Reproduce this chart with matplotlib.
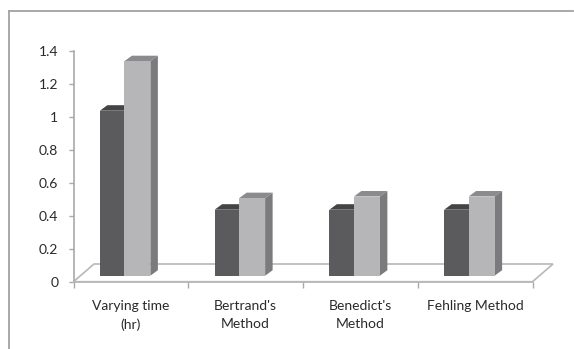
import matplotlib
matplotlib.use("Agg")
import matplotlib.pyplot as plt
from matplotlib.patches import Polygon
from matplotlib.lines import Line2D

# Data
categories = ["Varying time\n(hr)", "Bertrand's\nMethod", "Benedict's\nMethod", "Fehling Method"]
series_a = [1.0, 0.40, 0.40, 0.40]
series_b = [1.30, 0.47, 0.48, 0.48]
y_ticks = [0, 0.2, 0.4, 0.6, 0.8, 1.0, 1.2, 1.4]
y_tick_labels = ["0", "0.2", "0.4", "0.6", "0.8", "1", "1.2", "1.4"]

plt.rcParams["font.family"] = ["Lato", "DejaVu Sans"]

W, H = 574, 349
fig = plt.figure(figsize=(W / 100, H / 100), dpi=100)
fig.patch.set_facecolor("white")

# plot area (front plane of the floor)
left_px, right_px = 73.5, 532.5
bottom_px, top_px = 281.7, 50.7
ax = fig.add_axes([left_px / W, (H - bottom_px) / H,
                   (right_px - left_px) / W, (bottom_px - top_px) / H])
ax.set_xlim(-0.5, len(categories) - 0.5)
ax.set_ylim(0, 1.4)
ax.set_facecolor("none")

# pixel -> data conversion for the pseudo-3D offsets
px_x = (right_px - left_px) / len(categories)
px_y = (bottom_px - top_px) / 1.4

line_col = "#a9a9a9"
floor_col = "#b8b8b8"

# floor parallelogram
fdx, fdy = 20.5 / px_x, 17.7 / px_y
x0, x1 = -0.5, len(categories) - 0.5
floor = Polygon([(x0, 0), (x1, 0), (x1 + fdx, fdy), (x0 + fdx, fdy)],
                closed=True, facecolor="white", edgecolor=floor_col,
                linewidth=1.2, clip_on=False, zorder=1)
ax.add_patch(floor)

# bars with depth
shift_x = -6.5 / px_x
base = 6.0 / px_y
bw_a = 24.5 / px_x
bw_b = 26.0 / px_x
ddx, ddy = 7.5 / px_x, 5.5 / px_y

dark_front, dark_top, dark_side = "#5b5a5c", "#444345", "#3a393b"
light_front, light_top, light_side = "#b6b5b7", "#8b8a8c", "#7b7a7c"

xs = range(len(categories))
xa = [i + shift_x - bw_a / 2 for i in xs]
xb = [i + shift_x + bw_b / 2 for i in xs]


def faces(xc, w, v, top_c, side_c):
    xl, xr = xc - w / 2, xc + w / 2
    yt = base + v
    ax.add_patch(Polygon([(xl, yt), (xr, yt), (xr + ddx, yt + ddy), (xl + ddx, yt + ddy)],
                         closed=True, facecolor=top_c, edgecolor="none",
                         clip_on=False, zorder=2))
    ax.add_patch(Polygon([(xr, base), (xr, yt), (xr + ddx, yt + ddy), (xr + ddx, base + ddy)],
                         closed=True, facecolor=side_c, edgecolor="none",
                         clip_on=False, zorder=2))


for i in xs:
    faces(xa[i], bw_a, series_a[i], dark_top, dark_side)
ax.bar(xa, series_a, width=bw_a, bottom=base, color=dark_front,
       edgecolor="none", zorder=3, clip_on=False)
for i in xs:
    faces(xb[i], bw_b, series_b[i], light_top, light_side)
ax.bar(xb, series_b, width=bw_b, bottom=base, color=light_front,
       edgecolor="none", zorder=4, clip_on=False)

# axes styling
for s in ["top", "right"]:
    ax.spines[s].set_visible(False)
ax.spines["left"].set_color(line_col)
ax.spines["bottom"].set_color(floor_col)
ax.spines["left"].set_linewidth(1.2)
ax.spines["bottom"].set_linewidth(1.2)
ax.spines["bottom"].set_zorder(5)

ax.set_yticks(y_ticks)
ax.set_yticklabels(y_tick_labels)
ax.tick_params(axis="y", direction="out", length=3.5, width=1.0, color=line_col,
               pad=7.5, labelsize=10, labelcolor="#2a2a2a")

ax.set_xticks([i - 0.5 for i in range(len(categories) + 1)])
ax.set_xticklabels([])
ax.tick_params(axis="x", which="major", direction="out", length=4, width=1.0,
               color=line_col)
ax.set_xticks(list(xs), minor=True)
ax.set_xticklabels(categories, minor=True, fontsize=10, color="#2a2a2a",
                   linespacing=1.6)
ax.tick_params(axis="x", which="minor", length=0, pad=13)

# chart-area border
border = "#a3a3a3"
fig.add_artist(Line2D([9 / W, 573 / W], [(H - 11) / H, (H - 11) / H],
                      transform=fig.transFigure, color=border, linewidth=1.3))
fig.add_artist(Line2D([9 / W, 9 / W], [(H - 11) / H, 0],
                      transform=fig.transFigure, color=border, linewidth=1.3))

fig.savefig("out.png", dpi=100, facecolor="white")
